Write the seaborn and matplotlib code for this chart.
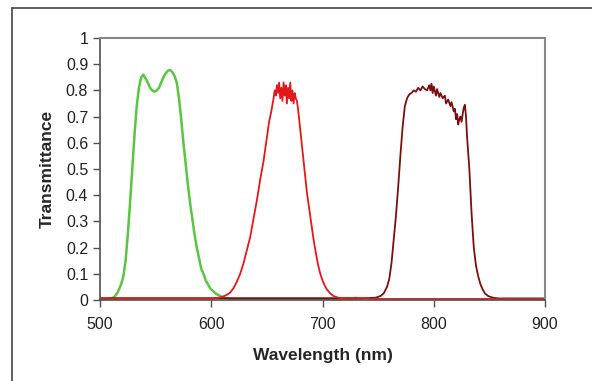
import matplotlib
matplotlib.use("Agg")
import matplotlib.pyplot as plt
from matplotlib.lines import Line2D
import seaborn as sns
import pandas as pd

# filter transmission curves
green_wl = [500, 505, 510, 513, 516, 519, 521, 523, 525, 527, 529, 531, 533, 535, 537, 539,
            541, 543, 545, 547, 549, 551, 553, 555, 557, 559, 561, 563, 565, 567, 569, 571,
            573, 575, 577, 579, 581, 583, 585, 587, 589, 591, 593, 595, 597, 599, 602, 605,
            608, 612, 618, 630, 700, 730]
green_t = [0.003, 0.003, 0.005, 0.012, 0.03, 0.06, 0.09, 0.15, 0.25, 0.37, 0.50, 0.63, 0.74,
           0.81, 0.85, 0.86, 0.845, 0.83, 0.81, 0.80, 0.795, 0.80, 0.81, 0.83, 0.85, 0.865,
           0.875, 0.878, 0.87, 0.855, 0.83, 0.77, 0.69, 0.60, 0.52, 0.44, 0.37, 0.31, 0.25,
           0.20, 0.16, 0.12, 0.10, 0.075, 0.06, 0.045, 0.032, 0.022, 0.015, 0.008, 0.004,
           0.002, 0.002, 0.002]

red_wl = [500, 600, 606, 610, 614, 617, 620, 623, 626, 629, 632, 635, 638, 641, 644, 647,
          650, 652, 654, 656, 657, 658, 659, 660, 661, 662, 663, 664, 665, 666, 667, 668,
          669, 670, 671, 672, 673, 674, 675, 676, 677, 678, 680, 682, 684, 686, 688, 690,
          692, 694, 696, 698, 700, 702, 704, 707, 710, 714, 718, 722, 726, 730, 734, 738,
          745, 800, 900]
red_t = [0.005, 0.005, 0.008, 0.012, 0.02, 0.028, 0.045, 0.07, 0.10, 0.14, 0.19, 0.24, 0.31,
         0.38, 0.46, 0.53, 0.62, 0.68, 0.72, 0.77, 0.80, 0.78, 0.82, 0.79, 0.83, 0.77, 0.81,
         0.76, 0.83, 0.78, 0.82, 0.75, 0.81, 0.77, 0.83, 0.76, 0.80, 0.75, 0.79, 0.77, 0.76,
         0.73, 0.65, 0.57, 0.49, 0.41, 0.35, 0.29, 0.23, 0.18, 0.135, 0.10, 0.075, 0.055,
         0.04, 0.025, 0.015, 0.009, 0.006, 0.008, 0.005, 0.009, 0.004, 0.007, 0.004, 0.004,
         0.004]

maroon_wl = [500, 740, 748, 752, 755, 758, 760, 762, 764, 766, 768, 770, 772, 774, 776, 778,
             780, 782, 784, 786, 788, 790, 792, 794, 796, 797, 798, 799, 800, 802, 803, 805,
             806, 808, 810, 811, 813, 815, 816, 818, 819, 820, 821, 822, 823, 824, 825, 826,
             827, 828, 829, 830, 832, 834, 836, 838, 840, 842, 844, 846, 849, 853, 858, 900]
maroon_t = [0.007, 0.007, 0.009, 0.015, 0.025, 0.05, 0.08, 0.14, 0.23, 0.32, 0.43, 0.55,
            0.66, 0.74, 0.77, 0.785, 0.79, 0.80, 0.795, 0.81, 0.80, 0.815, 0.805, 0.80, 0.82,
            0.80, 0.825, 0.79, 0.815, 0.78, 0.805, 0.775, 0.79, 0.77, 0.78, 0.75, 0.765,
            0.74, 0.755, 0.72, 0.73, 0.69, 0.71, 0.67, 0.69, 0.70, 0.68, 0.71, 0.735, 0.745,
            0.70, 0.62, 0.50, 0.33, 0.20, 0.13, 0.09, 0.06, 0.04, 0.025, 0.015, 0.009, 0.006,
            0.006]

sns.set_style("white")
plt.rcParams['font.family'] = ['Liberation Sans', 'DejaVu Sans']

fig = plt.figure(figsize=(5.92, 3.81), dpi=100)
ax = fig.add_axes([100 / 592, 1 - 300 / 381, 445 / 592, 262 / 381])

series = [(green_wl, green_t, '#5cc443', 1.8),
          (maroon_wl, maroon_t, '#7a0f0f', 1.3),
          (red_wl, red_t, '#e3181c', 1.3)]
for wl, t, col, lw in series:
    df = pd.DataFrame({'wl': wl, 't': t})
    sns.lineplot(data=df, x='wl', y='t', ax=ax, color=col, linewidth=lw)

ax.set_xlim(500, 900)
ax.set_ylim(0, 1)
ax.set_xticks([500, 600, 700, 800, 900])
ax.set_yticks([i / 10 for i in range(11)])
ax.set_yticklabels(['0', '0.1', '0.2', '0.3', '0.4', '0.5', '0.6', '0.7', '0.8', '0.9', '1'])
ax.tick_params(axis='both', direction='out', length=5, width=1, color='#505050',
               labelsize=11.5, labelcolor='#222222', left=True, bottom=True)
ax.tick_params(axis='x', pad=7)
ax.set_xlabel('Wavelength (nm)', fontsize=12.5, fontweight='bold', labelpad=12)
ax.set_ylabel('Transmittance', fontsize=12.5, fontweight='bold', labelpad=8)

for side in ['left', 'bottom']:
    ax.spines[side].set_color('#505050')
    ax.spines[side].set_linewidth(1.2)
for side in ['top', 'right']:
    ax.spines[side].set_color('#888888')
    ax.spines[side].set_linewidth(1.5)

# outer frame of the figure (top and left edges)
fig.add_artist(Line2D([12 / 592, 1], [1 - 8 / 381, 1 - 8 / 381], color='#444444', lw=1.2))
fig.add_artist(Line2D([12 / 592, 12 / 592], [0, 1 - 8 / 381], color='#444444', lw=1.2))

fig.savefig('out.png', dpi=100)
